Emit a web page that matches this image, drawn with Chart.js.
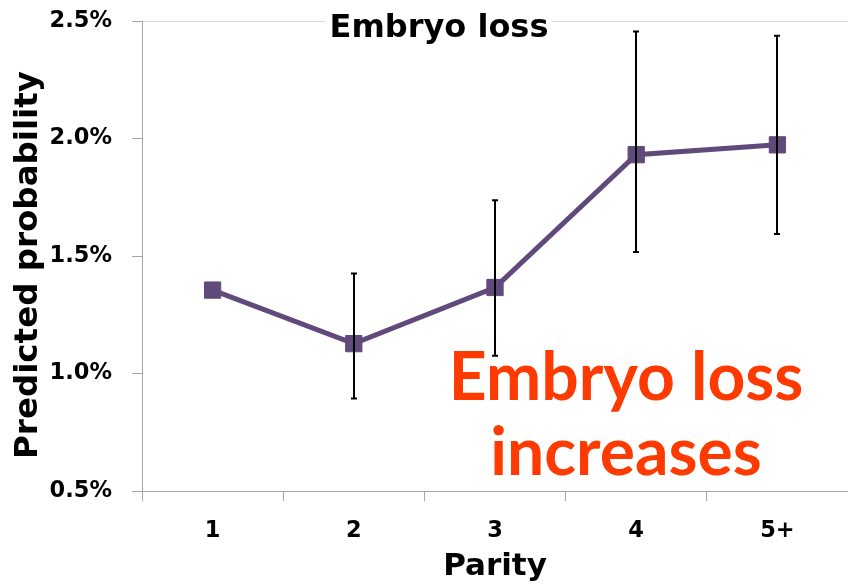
<!DOCTYPE html>
<html>
<head>
<meta charset="utf-8">
<title>Embryo loss by parity</title>
<script src="https://cdn.jsdelivr.net/npm/chart.js@4/dist/chart.umd.min.js"></script>
<style>
  html, body { margin: 0; padding: 0; background: #ffffff; }
  #wrap { width: 848px; height: 586px; position: relative; }
</style>
</head>
<body>
<div id="wrap"><canvas id="chart" width="848" height="586"></canvas></div>
<script>
// Parity categories and predicted probability of embryo loss (%)
const parity = ['1', '2', '3', '4', '5+'];
const predicted = [1.355, 1.127, 1.366, 1.931, 1.973];
// 95% confidence limits (%); the reference category has none
const ciLower = [null, 0.894, 1.076, 1.517, 1.594];
const ciUpper = [null, 1.426, 1.737, 2.455, 2.437];
// Y axis range and step (%)
const yMin = 0.5;
const yMax = 2.5;
const yStep = 0.5;

const chartTitle = 'Embryo loss';
const yTitle = 'Predicted probability';
const xTitle = 'Parity';
const noteLines = ['Embryo loss', 'increases'];

const AXIS_GREY = '#A6A6A6';
const FRAME_GREY = '#D9D9D9';
const PURPLE = '#604A7B';
const NOTE_RED = '#FF3A00';
const BOLD_FONT = '"DejaVu Sans", sans-serif';

// Vertical whiskers with small caps, drawn over the line and markers
const errorBars = {
  id: 'errorBars',
  afterDatasetsDraw(chart) {
    const { ctx, scales: { x, y } } = chart;
    ctx.save();
    ctx.strokeStyle = '#000000';
    ctx.lineWidth = 2;
    parity.forEach((p, i) => {
      if (ciLower[i] == null || ciUpper[i] == null) return;
      const px = Math.round(x.getPixelForValue(i));
      const yLo = y.getPixelForValue(ciLower[i]);
      const yHi = y.getPixelForValue(ciUpper[i]);
      ctx.beginPath();
      ctx.moveTo(px, yHi);
      ctx.lineTo(px, yLo);
      ctx.moveTo(px - 3, yHi);
      ctx.lineTo(px + 3, yHi);
      ctx.moveTo(px - 3, yLo);
      ctx.lineTo(px + 3, yLo);
      ctx.stroke();
    });
    ctx.restore();
  }
};

// Headline, rotated y title and the red callout
const texts = {
  id: 'texts',
  afterDraw(chart) {
    const { ctx, chartArea } = chart;
    ctx.save();

    // chart title sits on a white box over the plot frame
    ctx.font = 'bold 32px ' + BOLD_FONT;
    const tw = ctx.measureText(chartTitle).width;
    ctx.fillStyle = '#ffffff';
    ctx.fillRect(439 - tw / 2 - 4, 4, tw + 8, 40);
    ctx.fillStyle = '#000000';
    ctx.textAlign = 'center';
    ctx.textBaseline = 'alphabetic';
    ctx.fillText(chartTitle, 439, 37);

    // y axis title
    ctx.save();
    ctx.translate(37, 265);
    ctx.rotate(-Math.PI / 2);
    ctx.font = 'bold 32.5px ' + BOLD_FONT;
    ctx.fillText(yTitle, 0, 0);
    ctx.restore();

    // x axis title
    ctx.font = 'bold 31px ' + BOLD_FONT;
    ctx.fillText(xTitle, (chartArea.left + chartArea.right) / 2, 575);

    // callout
    ctx.fillStyle = NOTE_RED;
    ctx.font = 'bold 66px Lato, sans-serif';
    ctx.fillText(noteLines[0], 626, 400);
    ctx.fillText(noteLines[1], 626, 475);

    ctx.restore();
  }
};

new Chart(document.getElementById('chart'), {
  type: 'line',
  data: {
    labels: parity,
    datasets: [{
      data: predicted,
      borderColor: PURPLE,
      backgroundColor: PURPLE,
      borderWidth: 5,
      pointStyle: 'rect',
      pointRadius: 11.5,
      pointBorderWidth: 1,
      pointBorderColor: PURPLE,
      pointBackgroundColor: PURPLE,
      tension: 0,
      fill: false
    }]
  },
  options: {
    responsive: false,
    animation: false,
    devicePixelRatio: 1,
    layout: { autoPadding: false, padding: { top: 21, right: 0, bottom: 0, left: 0 } },
    plugins: {
      legend: { display: false },
      title: { display: false },
      tooltip: { enabled: false }
    },
    scales: {
      x: {
        type: 'category',
        offset: true,
        afterFit(scale) {
          scale.height = 95;
          scale.paddingLeft = 0;
          scale.paddingRight = 0;
        },
        grid: {
          offset: true,
          drawOnChartArea: false,
          drawTicks: true,
          tickLength: 10,
          tickColor: AXIS_GREY,
          color: AXIS_GREY
        },
        border: { display: true, color: AXIS_GREY, width: 1 },
        ticks: {
          color: '#000000',
          font: { family: BOLD_FONT, size: 22.5, weight: 'bold' },
          padding: 17,
          maxRotation: 0
        }
      },
      y: {
        min: yMin,
        max: yMax,
        afterFit(scale) {
          scale.width = 142;
          scale.paddingTop = 0;
          scale.paddingBottom = 0;
        },
        grid: {
          drawOnChartArea: true,
          drawTicks: true,
          tickLength: 10,
          tickColor: AXIS_GREY,
          color: (c) => (c.tick && c.tick.value === yMax ? FRAME_GREY : 'rgba(0,0,0,0)')
        },
        border: { display: true, color: AXIS_GREY, width: 1 },
        ticks: {
          stepSize: yStep,
          color: '#000000',
          font: { family: BOLD_FONT, size: 22.5, weight: 'bold' },
          padding: 20,
          callback: (v) => Number(v).toFixed(1) + '%'
        }
      }
    }
  },
  plugins: [errorBars, texts]
});
</script>
</body>
</html>
